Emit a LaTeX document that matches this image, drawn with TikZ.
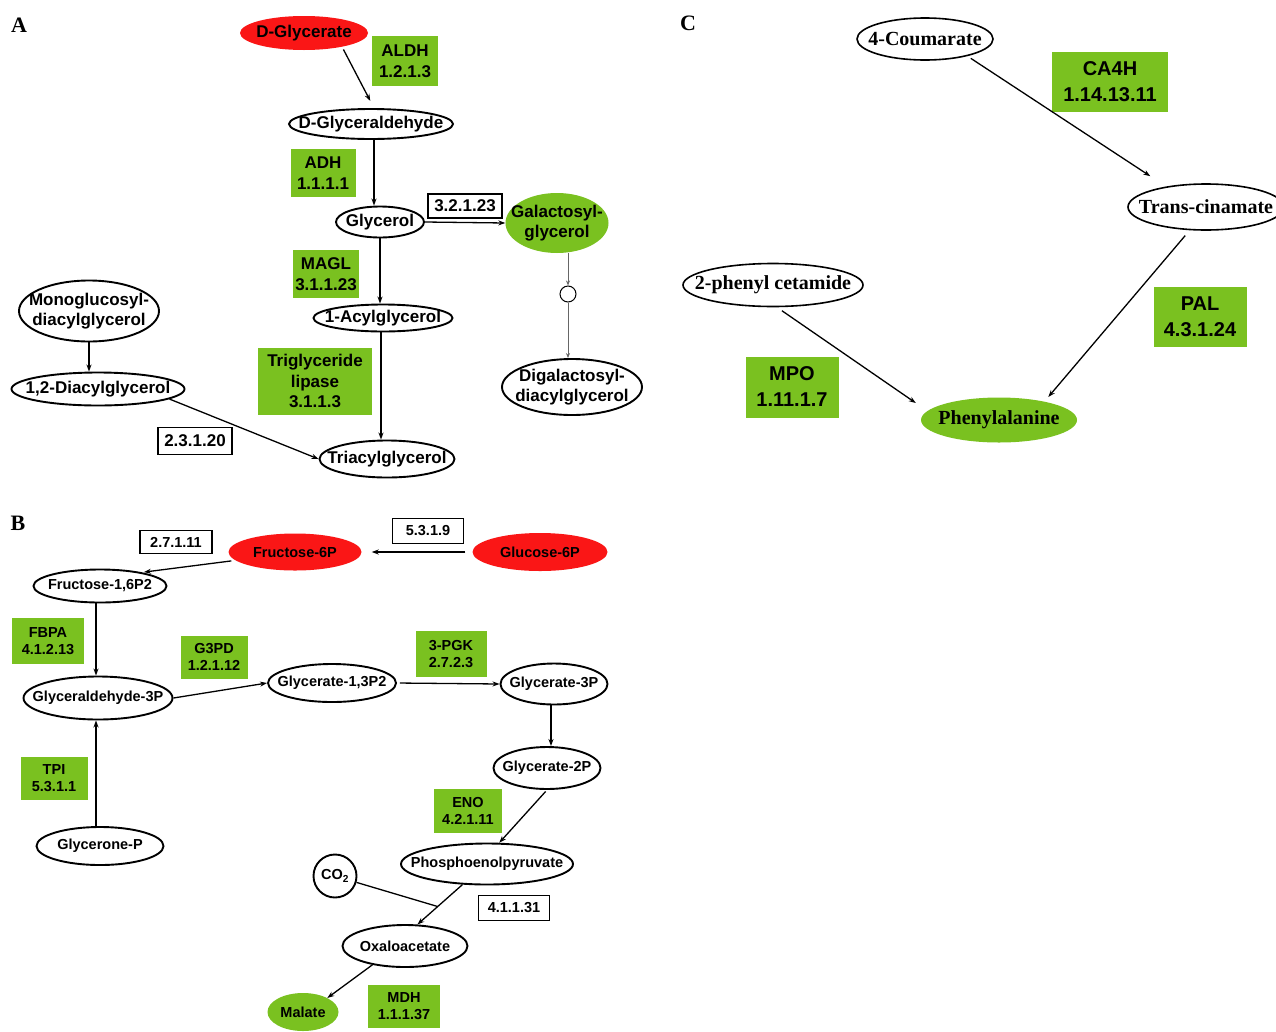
\documentclass[tikz,border=0pt]{standalone}
\usepackage{fontspec}
\setmainfont{Liberation Serif}
\setsansfont{Liberation Sans}
\usetikzlibrary{shapes.geometric,arrows.meta,calc}

\definecolor{enzgreen}{RGB}{122,193,32}
\definecolor{metred}{RGB}{250,22,22}

\newcommand\fntA{\sffamily\bfseries\fontsize{17}{20}\selectfont}
\newcommand\fntAbox{\sffamily\bfseries\fontsize{17}{20.5}\selectfont}
\newcommand\fntB{\sffamily\bfseries\fontsize{14.5}{17}\selectfont}
\newcommand\fntCmet{\rmfamily\bfseries\fontsize{20}{24}\selectfont}
\newcommand\fntCbox{\sffamily\bfseries\fontsize{20}{26}\selectfont}
\newcommand\fntPanel{\rmfamily\bfseries\fontsize{22}{24}\selectfont}

\begin{document}
\begin{tikzpicture}[x=1pt,y=-1pt,
  met/.style={ellipse, draw, line width=1.9pt, inner sep=0pt},
  redmet/.style={ellipse, fill=metred, inner sep=0pt},
  greenmet/.style={ellipse, fill=enzgreen, inner sep=0pt},
  enz/.style={fill=enzgreen, align=center, inner sep=0pt},
  ec/.style={draw, line width=1.4pt, fill=white, inner sep=0pt},
  arr/.style={-{Stealth[length=7pt,width=5pt]}, line width=1.3pt},
  thinarr/.style={-{Stealth[length=5pt,width=4pt]}, line width=0.8pt, black!60},
  every label/.style={align=center, inner sep=0pt}]

\fill[white] (0,0) rectangle (1276,1031);
\useasboundingbox (0,0) rectangle (1276,1031);

% panel letters
\node[font=\fntPanel] (pA) at (19,25) {A};
\node[font=\fntPanel] (pB) at (18,523) {B};
\node[font=\fntPanel] (pC) at (688,23) {C};

% ---------------- A: glycerolipid metabolism ----------------
\begin{scope}[every label/.append style={font=\fntA},
  enz/.append style={font=\fntAbox}, ec/.append style={font=\fntA}]
\node[redmet, minimum width=128, minimum height=34, label={center:{D-Glycerate}}] (dglc) at (304,33) {};
\node[enz, minimum width=66, minimum height=50] (aldh) at (405,61) {ALDH\\1.2.1.3};
\node[met, minimum width=164, minimum height=30, label={center:{D-Glyceraldehyde}}] (dgald) at (371,124) {};
\node[enz, minimum width=65, minimum height=48] (adh) at (323,173) {ADH\\1.1.1.1};
\node[met, minimum width=88, minimum height=31, label={center:{Glycerol}}] (glyc) at (380,222) {};
\node[ec, minimum width=74, minimum height=24] (e32123) at (465,206) {3.2.1.23};
\node[greenmet, minimum width=103, minimum height=60, label={center:{Galactosyl-\\glycerol}}] (galg) at (557,223) {};
\node[circle, draw, line width=1pt, minimum size=16, inner sep=0pt] (galint) at (568,294) {};
\node[met, minimum width=140, minimum height=56, label={center:{Digalactosyl-\\diacylglycerol}}] (dgdg) at (572,387) {};
\node[enz, minimum width=66, minimum height=48] (magl) at (326,274) {MAGL\\3.1.1.23};
\node[met, minimum width=139, minimum height=27, label={center:{1-Acylglycerol}}] (acyl) at (383,318) {};
\node[enz, minimum width=114, minimum height=67] (tgl) at (315,381) {Triglyceride\\lipase\\3.1.1.3};
\node[met, minimum width=135, minimum height=37, label={center:{Triacylglycerol}}] (tag) at (387,459) {};
\node[met, minimum width=140, minimum height=61, label={center:{Monoglucosyl-\\diacylglycerol}}] (mgdg) at (89,311) {};
\node[met, minimum width=173, minimum height=33, label={center:{1,2-Diacylglycerol}}] (dag) at (98,389) {};
\node[ec, minimum width=74, minimum height=27] (e23120) at (195,441) {2.3.1.20};

\draw[arr, shorten <=3pt, shorten >=8pt] (dglc.-20) -- ([shift={(3,0)}]dgald.north);
\draw[arr] ([shift={(3,0)}]dgald.south) -- ([shift={(3,0)}]dgald.south |- glyc.north);
\draw[arr] (glyc.east) -- (galg.west);
\draw[thinarr] (galg.south -| galint.north) -- (galint.north);
\draw[thinarr] (galint.south) -- (galint.south |- dgdg.north);
\draw[arr] (glyc.south) -- (glyc.south |- acyl.north);
\draw[arr] ([shift={(-2,0)}]acyl.south) -- ([shift={(-2,0)}]acyl.south |- tag.north);
\draw[arr] (mgdg.south) -- (mgdg.south |- dag.north);
\draw[arr] (dag.-8) -- (tag.west);
\end{scope}

% ---------------- B: glycolysis ----------------
\begin{scope}[every label/.append style={font=\fntB},
  enz/.append style={font=\fntB}, ec/.append style={font=\fntB}]
\node[ec, minimum width=72, minimum height=23] (e27111) at (176,542) {2.7.1.11};
\node[redmet, minimum width=133, minimum height=37, label={center:{Fructose-6P}}] (f6p) at (295,552) {};
\node[ec, minimum width=71, minimum height=25] (e5319) at (428,531) {5.3.1.9};
\node[redmet, minimum width=135, minimum height=38, label={center:{Glucose-6P}}] (g6p) at (540,552) {};
\node[met, minimum width=133, minimum height=33, label={center:{Fructose-1,6P2}}] (f16) at (100,586) {};
\node[enz, minimum width=72, minimum height=46] (fbpa) at (48,641) {FBPA\\4.1.2.13};
\node[met, minimum width=149, minimum height=43, label={center:{Glyceraldehyde-3P}}] (g3p) at (98,698) {};
\node[enz, minimum width=67, minimum height=43] (g3pd) at (214,657) {G3PD\\1.2.1.12};
\node[met, minimum width=128, minimum height=38, label={center:{Glycerate-1,3P2}}] (g13) at (332,683) {};
\node[enz, minimum width=71, minimum height=46] (pgk) at (451,654) {3-PGK\\2.7.2.3};
\node[met, minimum width=107, minimum height=41, label={center:{Glycerate-3P}}] (g3pt) at (554,684) {};
\node[met, minimum width=107, minimum height=42, label={center:{Glycerate-2P}}] (g2p) at (547,768) {};
\node[enz, minimum width=68, minimum height=44] (eno) at (468,811) {ENO\\4.2.1.11};
\node[met, minimum width=172, minimum height=41, label={center:{Phosphoenolpyruvate}}] (pep) at (487,864) {};
\node[met, minimum width=43, minimum height=43, label={center:{CO\textsubscript{2}}}] (co2) at (335,876) {};
\node[ec, minimum width=71, minimum height=25] (e41131) at (514,908) {4.1.1.31};
\node[met, minimum width=125, minimum height=42, label={center:{Oxaloacetate}}] (oaa) at (405,946) {};
\node[greenmet, minimum width=71, minimum height=38, label={center:{Malate}}] (mal) at (303,1012) {};
\node[enz, minimum width=72, minimum height=43] (mdh) at (404,1006) {MDH\\1.1.1.37};
\node[met, minimum width=127, minimum height=38, label={center:{Glycerone-P}}] (dhap) at (100,846) {};
\node[enz, minimum width=67, minimum height=43] (tpi) at (54,778) {TPI\\5.3.1.1};

\draw[arr, shorten <=7pt, shorten >=10pt] (g6p.west) -- (f6p.east);
\draw[arr, shorten <=4pt, shorten >=2pt] (f6p.188) -- (f16.18);
\draw[arr] ([shift={(-4,0)}]f16.south) -- ([shift={(-4,0)}]f16.south |- g3p.north);
\draw[arr] (g3p.east) -- (g13.west);
\draw[arr, shorten <=3pt] (g13.east) -- (g3pt.west);
\draw[arr] ([shift={(-3,0)}]g3pt.south) -- ([shift={(-3,0)}]g3pt.south |- g2p.north);
\draw[arr, shorten <=2pt] (g2p.south) -- (pep.60);
\draw[arr] (pep.-140) -- (oaa.60);
\coordinate (co2join) at ($(pep.-140)!0.55!(oaa.60)$);
\draw[line width=1.3pt] (co2) -- (co2join);
\draw[arr] (oaa.-150) -- (mal.30);
\draw[arr] ([shift={(-4,0)}]dhap.north) -- ([shift={(-4,0)}]dhap.north |- g3p.south);
\end{scope}

% ---------------- C: phenylalanine metabolism ----------------
\begin{scope}[every label/.append style={font=\fntCmet},
  enz/.append style={font=\fntCbox}]
\node[met, line width=1.6pt, minimum width=136, minimum height=42, label={center:{4-Coumarate}}] (coum) at (925,39) {};
\node[enz, minimum width=116, minimum height=60] (ca4h) at (1110,82) {CA4H\\1.14.13.11};
\node[met, line width=1.6pt, minimum width=156, minimum height=46, label={center:{Trans-cinamate}}] (trans) at (1206,207) {};
\node[enz, minimum width=93, minimum height=60] (pal) at (1200,317) {PAL\\4.3.1.24};
\node[met, line width=1.6pt, minimum width=180, minimum height=43, label={center:{2-phenyl cetamide}}] (phac) at (773,285) {};
\node[enz, minimum width=93, minimum height=61] (mpo) at (792,387) {MPO\\1.11.1.7};
\node[greenmet, minimum width=156, minimum height=45, label={center:{Phenylalanine}}] (phe) at (999,420) {};

\draw[arr, shorten <=4pt] (coum.-22) -- ([shift={(0,-14)}]trans.north west);
\draw[arr, shorten <=7pt] (trans.-125) -- ([shift={(-6,-7)}]phe.north east);
\draw[arr, shorten <=6pt] (phac.-80) -- ([shift={(-5,-17)}]phe.west);
\end{scope}
\end{tikzpicture}
\end{document}
